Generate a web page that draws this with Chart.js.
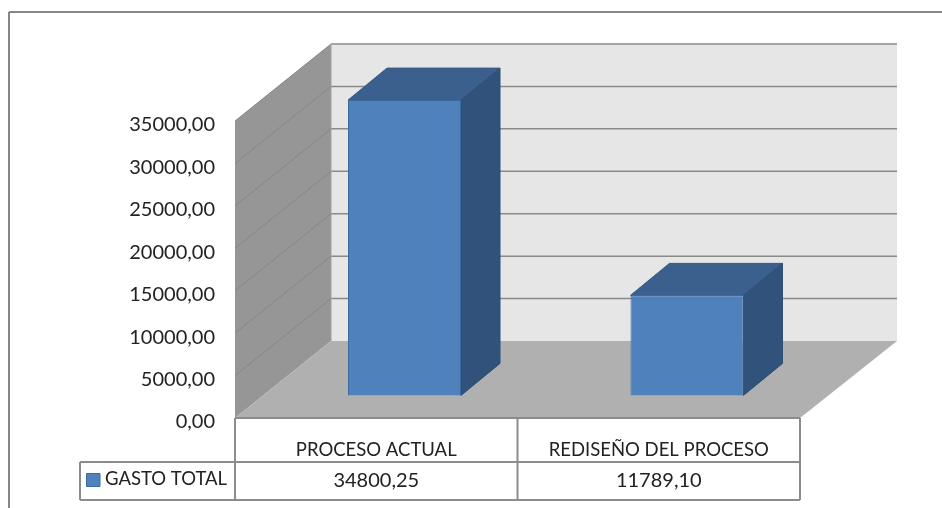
<!DOCTYPE html>
<html>
<head>
<meta charset="utf-8">
<style>
  html, body { margin: 0; padding: 0; background: #fff; }
  canvas { display: block; filter: blur(0.45px); }
</style>
<script src="https://cdn.jsdelivr.net/npm/chart.js@4/dist/chart.umd.min.js"></script>
</head>
<body>
<canvas id="chart" width="942" height="508"></canvas>
<script>
const categories = ['PROCESO ACTUAL', 'REDISEÑO DEL PROCESO'];
const seriesName = 'GASTO TOTAL';
const gastoTotal = [34800.25, 11789.10];

const FONT_FAMILY = 'Lato, Carlito, sans-serif';
const NUM_FONT = { family: FONT_FAMILY, size: 20 };
const CAPS_FONT = { family: FONT_FAMILY, size: 18.5 };
const INK = '#222222';
const LINE = '#8c8c8c';

// 3D offsets (walls: front plane to back wall; bars: front plane to bar front; bar depth)
const WALL = { dx: 96, dy: 77 };
const BAR = { dx: 28.25, dy: 22.6 };
const SIDE = { dx: 39, dy: 32 };

const fmtEs = (v) => v.toFixed(2).replace('.', ',');

function poly(ctx, pts, fill, stroke) {
  ctx.beginPath();
  pts.forEach(([x, y], i) => (i ? ctx.lineTo(x, y) : ctx.moveTo(x, y)));
  ctx.closePath();
  ctx.fillStyle = fill;
  ctx.fill();
  if (stroke) {
    ctx.strokeStyle = stroke;
    ctx.lineWidth = 1;
    ctx.stroke();
  }
}

function seg(ctx, x1, y1, x2, y2, color, width) {
  ctx.beginPath();
  ctx.moveTo(x1, y1);
  ctx.lineTo(x2, y2);
  ctx.strokeStyle = color;
  ctx.lineWidth = width;
  ctx.stroke();
}

// ---------- Walls, floor and gridlines ----------
const room = {
  id: 'room',
  beforeDatasetsDraw(chart) {
    const { ctx, chartArea: a, scales: { y } } = chart;
    const w = WALL;
    ctx.save();
    // outer frame
    seg(ctx, 9, 509, 9, 12, '#868686', 2);
    seg(ctx, 9, 12, 943, 12, '#868686', 2);
    // back wall
    poly(ctx, [[a.left + w.dx, a.top - w.dy], [a.right + w.dx + 1, a.top - w.dy], [a.right + w.dx + 1, a.bottom - w.dy], [a.left + w.dx, a.bottom - w.dy]], '#e6e6e6');
    // left wall
    poly(ctx, [[a.left, a.top], [a.left + w.dx, a.top - w.dy], [a.left + w.dx, a.bottom - w.dy], [a.left, a.bottom]], '#969696');
    // floor
    poly(ctx, [[a.left, a.bottom], [a.left + w.dx, a.bottom - w.dy], [a.right + w.dx + 1, a.bottom - w.dy], [a.right, a.bottom]], '#b0b0b0');
    for (const t of y.ticks) {
      const py = y.getPixelForValue(t.value);
      if (t.value > 0) {
        seg(ctx, a.left, py, a.left + w.dx, py - w.dy, '#868686', 1);
        seg(ctx, a.left + w.dx, py - w.dy, a.right + w.dx + 1, py - w.dy, '#8a8a8a', 1.5);
      }
    }
    seg(ctx, a.left + w.dx, a.top - w.dy, a.left + w.dx, a.bottom - w.dy, '#a0a0a0', 1);
    ctx.restore();
  },
  // bars sit forward of the wall corner, so shift the whole dataset onto the floor
  beforeDatasetDraw(chart, args) {
    const { ctx } = chart;
    ctx.save();
    ctx.translate(BAR.dx, -BAR.dy);
    for (const bar of args.meta.data) {
      const p = bar.getProps(['x', 'y', 'base', 'width'], true);
      const l = p.x - p.width / 2;
      const r = p.x + p.width / 2;
      poly(ctx, [[l, p.y], [l + SIDE.dx, p.y - SIDE.dy], [r + SIDE.dx, p.y - SIDE.dy], [r, p.y]], '#3c608d', '#39598a');
      poly(ctx, [[r, p.y], [r + SIDE.dx, p.y - SIDE.dy], [r + SIDE.dx, p.base - SIDE.dy], [r, p.base]], '#31527a', '#2f4f76');
    }
  },
  afterDatasetDraw(chart) {
    chart.ctx.restore();
  },
  // ---------- Data table under the plot ----------
  afterDraw(chart) {
    const { ctx, chartArea: a, scales: { x } } = chart;
    const mid = (x.getPixelForValue(0) + x.getPixelForValue(1)) / 2;
    const rowTop = 462;
    const rowBottom = 500;
    const keyLeft = 80;
    ctx.save();
    seg(ctx, a.left, a.bottom, a.right, a.bottom, LINE, 2);
    seg(ctx, keyLeft, rowTop, a.right, rowTop, LINE, 2);
    seg(ctx, keyLeft, rowBottom, a.right, rowBottom, LINE, 2);
    seg(ctx, keyLeft, rowTop, keyLeft, rowBottom, LINE, 2);
    for (const vx of [a.left, mid, a.right]) seg(ctx, vx, a.bottom, vx, rowBottom, LINE, 2);

    poly(ctx, [[86.5, 473.5], [100, 473.5], [100, 486.5], [86.5, 486.5]], '#4f81bd', '#3a6a9f');
    ctx.fillStyle = INK;
    ctx.textBaseline = 'middle';
    ctx.textAlign = 'left';
    ctx.font = `${CAPS_FONT.size}px ${FONT_FAMILY}`;
    ctx.fillText(seriesName, 105, 479);
    ctx.textAlign = 'center';
    ctx.font = `${NUM_FONT.size}px ${FONT_FAMILY}`;
    gastoTotal.forEach((v, i) => ctx.fillText(fmtEs(v), x.getPixelForValue(i), 481));
    ctx.restore();
  },
};

new Chart(document.getElementById('chart'), {
  type: 'bar',
  data: {
    labels: categories,
    datasets: [{
      label: seriesName,
      data: gastoTotal,
      backgroundColor: '#4f81bd',
      borderColor: '#3a6a9f',
      borderWidth: 1,
      barPercentage: 0.4,
      categoryPercentage: 1,
      clip: false,
    }],
  },
  options: {
    responsive: false,
    animation: false,
    events: [],
    layout: { padding: { top: 121, right: 142, left: 0, bottom: 0 } },
    plugins: { legend: { display: false }, tooltip: { enabled: false } },
    scales: {
      x: {
        grid: { display: false },
        border: { display: false },
        afterFit: (s) => { s.height = 90; },
        ticks: { color: INK, font: CAPS_FONT, padding: 13, maxRotation: 0 },
      },
      y: {
        min: 0,
        max: 35000,
        grid: { display: false },
        border: { display: false },
        afterFit: (s) => { s.width = 235; },
        ticks: { color: INK, font: NUM_FONT, stepSize: 5000, padding: 12, labelOffset: 4, callback: (v) => fmtEs(v) },
      },
    },
  },
  plugins: [room],
});
</script>
</body>
</html>
